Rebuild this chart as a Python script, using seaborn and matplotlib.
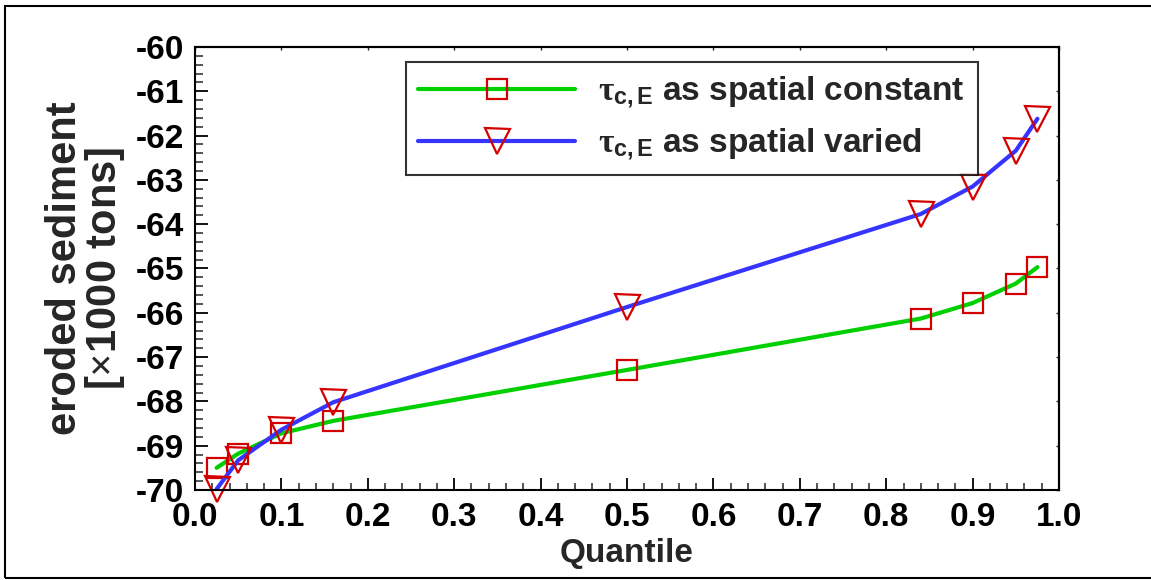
import matplotlib
matplotlib.use("Agg")
import matplotlib.pyplot as plt
import seaborn as sns
import pandas as pd
from matplotlib.ticker import MultipleLocator, FormatStrFormatter
from matplotlib.patches import Rectangle

# ---------------- data ----------------
quantiles = [0.025, 0.05, 0.1, 0.16, 0.5, 0.84, 0.9, 0.95, 0.975]
eroded_constant = [-69.50, -69.18, -68.72, -68.44, -67.29, -66.13, -65.78, -65.34, -64.97]
eroded_varied = [-69.98, -69.33, -68.64, -68.02, -65.87, -63.77, -63.15, -62.34, -61.62]
label_constant = r"$\mathrm{\tau}_{\mathbf{c,E}}$ as spatial constant"
label_varied = r"$\mathrm{\tau}_{\mathbf{c,E}}$ as spatial varied"
x_label = "Quantile"
y_label = "eroded sediment\n[$\\mathrm{\\times}$1000 tons]"
x_limits = (0.0, 1.0)
y_limits = (-70, -60)

# ---------------- style ----------------
GREEN = "#00d000"
BLUE = "#3535ff"
RED = "#d40000"

sns.set_theme(style="white")
plt.rcParams["font.family"] = ["Liberation Sans", "DejaVu Sans"]
plt.rcParams.update({
    "font.weight": "bold",
    "axes.unicode_minus": False,
    "mathtext.fontset": "custom",
    "mathtext.rm": "Liberation Serif",
    "mathtext.it": "Liberation Serif:italic",
    "mathtext.bf": "Liberation Sans:bold",
    "axes.edgecolor": "black",
    "axes.linewidth": 1.5,
})

df = pd.DataFrame({"Quantile": quantiles,
                   "constant": eroded_constant,
                   "varied": eroded_varied})

fig = plt.figure(figsize=(11.51, 5.80), dpi=100)
ax = fig.add_axes([0.1694, 0.1552, 0.7507, 0.7638])

sns.lineplot(data=df, x="Quantile", y="constant", ax=ax, color=GREEN,
             linewidth=3, marker="s", markersize=15, markerfacecolor="none",
             markeredgecolor=RED, markeredgewidth=1.6, legend=False,
             clip_on=False)
sns.lineplot(data=df, x="Quantile", y="varied", ax=ax, color=BLUE,
             linewidth=3, marker="v", markersize=18, markerfacecolor="none",
             markeredgecolor=RED, markeredgewidth=1.6, legend=False,
             clip_on=False)

ax.set_xlim(*x_limits)
ax.set_ylim(*y_limits)

ax.xaxis.set_major_locator(MultipleLocator(0.1))
ax.xaxis.set_minor_locator(MultipleLocator(0.02))
ax.yaxis.set_major_locator(MultipleLocator(1))
ax.yaxis.set_minor_locator(MultipleLocator(0.2))
ax.xaxis.set_major_formatter(FormatStrFormatter("%.1f"))
ax.yaxis.set_major_formatter(FormatStrFormatter("%d"))

ax.tick_params(axis="x", which="major", direction="in", length=8.6, width=1.3,
               labelsize=24, pad=9, bottom=True, top=False, colors="black")
ax.tick_params(axis="x", which="minor", direction="in", length=5, width=1.1,
               bottom=True, top=False)
ax.tick_params(axis="y", which="major", direction="in", length=9.4, width=1.3,
               labelsize=24, pad=8, left=True, right=False, colors="black")
ax.tick_params(axis="y", which="minor", direction="in", length=5.8, width=1.1,
               left=True, right=False)
for lab in ax.get_xticklabels() + ax.get_yticklabels():
    lab.set_fontweight("bold")

# short major ticks on the top and right spines
secx = ax.secondary_xaxis("top")
secx.xaxis.set_major_locator(MultipleLocator(0.1))
secx.tick_params(direction="in", length=2.5, width=1.0, labeltop=False)
secy = ax.secondary_yaxis("right")
secy.yaxis.set_major_locator(MultipleLocator(1))
secy.tick_params(direction="in", length=2.5, width=1.0, labelright=False)

for sp in ax.spines.values():
    sp.set_linewidth(1.5)
    sp.set_color("black")

ax.set_xlabel(x_label, fontsize=24, fontweight="bold", labelpad=3)
ax.set_ylabel(y_label, fontsize=30, fontweight="bold", labelpad=6,
              linespacing=0.95)

leg = ax.legend(handles=ax.lines[:2], labels=[label_constant, label_varied],
                loc="upper left", bbox_to_anchor=(0.244, 0.965),
                fontsize=24, frameon=True, fancybox=False, shadow=False,
                handlelength=4.7, handletextpad=0.7, labelspacing=0.45,
                borderpad=0.38, numpoints=1, borderaxespad=0)
leg.get_frame().set_edgecolor("black")
leg.get_frame().set_linewidth(1.5)
for t in leg.get_texts():
    t.set_fontweight("bold")

# outer frame (left, top, bottom edges of the figure box)
fig.add_artist(Rectangle((0.0043, 0.0034), 1.2, 0.9854, transform=fig.transFigure,
                         fill=False, edgecolor="black", linewidth=1.5,
                         clip_on=False))

fig.savefig("out.png", dpi=100)
